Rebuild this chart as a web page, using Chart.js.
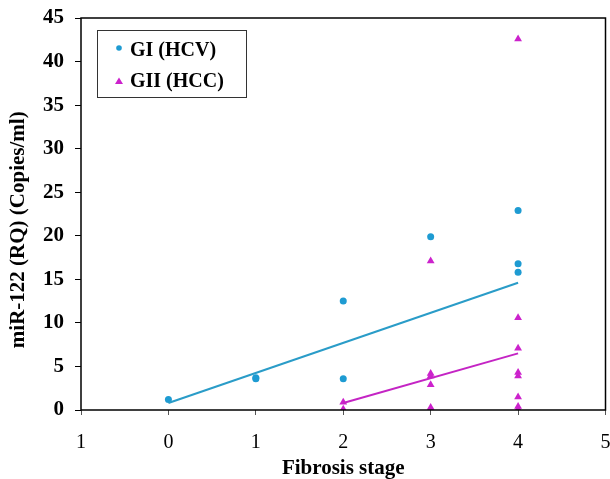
<!DOCTYPE html>
<html>
<head>
<meta charset="utf-8">
<script src="https://cdn.jsdelivr.net/npm/chart.js@4/dist/chart.umd.min.js"></script>
<style>
html,body{margin:0;padding:0;background:#fff;overflow:hidden;}
#wrap{position:relative;width:610px;height:479px;}
</style>
</head>
<body>
<div id="wrap"><canvas id="c" width="610" height="479"></canvas></div>
<script>
// Data
const stageGI = [0, 1, 1, 2, 2, 3, 4, 4, 4];
const valueGI = [1.2, 3.7, 3.6, 12.5, 3.6, 19.9, 22.9, 16.8, 15.8];
const stageGII = [2, 2, 3, 3, 3, 3, 3, 3, 4, 4, 4, 4, 4, 4, 4, 4];
const valueGII = [0.9, 0.1, 17.1, 4.2, 3.9, 2.9, 0.3, 0.1, 42.6, 10.6, 7.1, 4.3, 3.9, 1.5, 0.4, 0.1];
const trendGIStage = [0, 4];
const trendGIValue = [0.8, 14.6];
const trendGIIStage = [2, 4];
const trendGIIValue = [0.8, 6.5];
const xTickLabels = ["1", "0", "1", "2", "3", "4", "5"];
const seriesNames = ["GI (HCV)", "GII (HCC)"];
const blue = "#1E9BD2";
const magenta = "#CC22CC";

const pts = (xs, ys) => xs.map((x, i) => ({x: x, y: ys[i]}));

const borderPlugin = {
  id: 'border',
  afterDraw(chart) {
    const {ctx, chartArea: a} = chart;
    ctx.save();
    ctx.strokeStyle = '#000';
    ctx.lineWidth = 1.5;
    ctx.strokeRect(a.left, a.top, a.right - a.left, a.bottom - a.top);
    // legend box
    const lx = 97, ly = 30, lw = 149, lh = 67;
    ctx.lineWidth = 1;
    ctx.strokeStyle = '#333';
    ctx.strokeRect(lx + 0.5, ly + 0.5, lw, lh);
    ctx.font = 'bold 20px "Liberation Serif"';
    ctx.textBaseline = 'middle';
    // item 1
    ctx.fillStyle = blue;
    ctx.beginPath(); ctx.arc(119, 48, 2.8, 0, Math.PI * 2); ctx.fill();
    ctx.fillStyle = '#000';
    ctx.fillText(seriesNames[0], 130, 51);
    // item 2
    ctx.fillStyle = magenta;
    ctx.beginPath(); ctx.moveTo(119, 77.5); ctx.lineTo(123, 84); ctx.lineTo(115, 84); ctx.closePath(); ctx.fill();
    ctx.fillStyle = '#000';
    ctx.fillText(seriesNames[1], 130, 82);
    ctx.restore();
  }
};

new Chart(document.getElementById('c'), {
  type: 'scatter',
  data: {
    datasets: [
      {label: seriesNames[0], data: pts(stageGI, valueGI), backgroundColor: blue, borderColor: blue, pointStyle: 'circle', pointRadius: 3.5, pointBorderWidth: 0, order: 2},
      {label: seriesNames[1], data: pts(stageGII, valueGII), backgroundColor: magenta, borderColor: magenta, pointStyle: 'triangle', pointRadius: 4.5, pointBorderWidth: 0, order: 2},
      {type: 'line', label: 'trend1', data: pts(trendGIStage, trendGIValue), borderColor: '#2A9CC8', borderWidth: 2, pointRadius: 0, fill: false, order: 1},
      {type: 'line', label: 'trend2', data: pts(trendGIIStage, trendGIIValue), borderColor: '#C424C4', borderWidth: 2, pointRadius: 0, fill: false, order: 1}
    ]
  },
  options: {
    responsive: false,
    animation: false,
    layout: {padding: {top: 18, right: 4, left: 0, bottom: 0}},
    plugins: {legend: {display: false}, tooltip: {enabled: false}},
    scales: {
      x: {
        type: 'linear', min: -1, max: 5,
        ticks: {stepSize: 1, color: '#000', font: {family: '"Liberation Serif"', size: 20}, padding: 16,
          callback: (v) => xTickLabels[Math.round(v) + 1], maxRotation: 0, autoSkip: false},
        grid: {drawOnChartArea: false, drawTicks: true, tickLength: 5, color: '#000', tickColor: '#555'},
        border: {display: false},
        title: {display: true, text: 'Fibrosis stage', color: '#000', font: {family: '"Liberation Serif"', size: 21, weight: 'bold', lineHeight: 1.0}, padding: {top: 0, bottom: 0}},
        afterFit(s) { s.height = 69; s.paddingLeft = 0; s.paddingRight = 0; }
      },
      y: {
        min: 0, max: 45,
        ticks: {stepSize: 5, color: '#000', font: {family: '"Liberation Serif"', size: 21, weight: 'bold'}, padding: 11},
        grid: {drawOnChartArea: false, drawTicks: true, tickLength: 6, tickColor: '#000'},
        border: {display: false},
        title: {display: true, text: 'miR-122 (RQ) (Copies/ml)      ', color: '#000', font: {family: '"Liberation Serif"', size: 21, weight: 'bold', lineHeight: 1.0}, padding: {top: 8, bottom: 0}},
        afterFit(s) { s.width = 81; s.paddingTop = 0; s.paddingBottom = 0; }
      }
    }
  },
  plugins: [borderPlugin]
});
</script>
</body>
</html>
